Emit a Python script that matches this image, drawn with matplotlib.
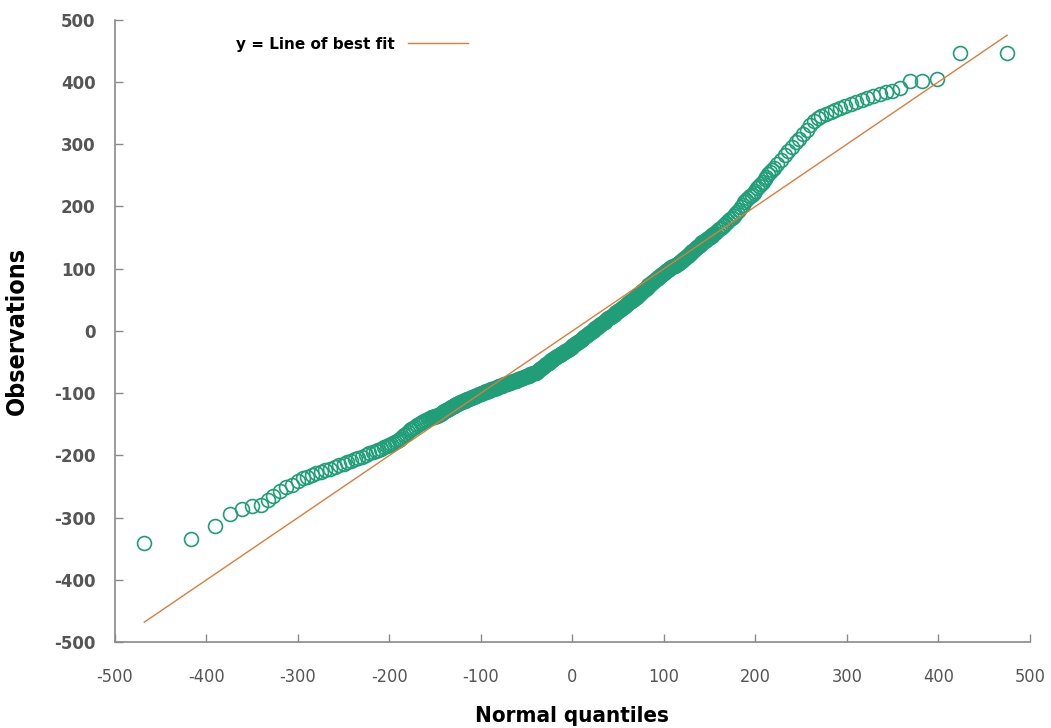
import matplotlib
matplotlib.use("Agg")
import matplotlib.pyplot as plt

GREEN, ORANGE, GREY = "#1f9e78", "#e07b39", "#8a8a8a"

# Normal quantiles (x) and sorted observations (y)
q_left = [-468, -417, -391, -374, -361, -350, -340, -333, -327, -320, -313, -307,
          -300, -295, -290, -285, -280, -275, -270, -265, -260, -255, -250, -246,
          -242, -238, -234, -230, -226, -222, -218, -215, -212, -209, -206, -203,
          -200, -198, -196, -194, -192, -190, -188, -186, -184, -182, -180, -178,
          -176, -174, -172, -170, -168, -166, -164, -162, -160, -158, -156]
obs_left = [-341, -334, -314, -294, -286, -282, -279, -272, -265, -258, -251, -247,
            -241, -237, -234, -231, -228, -226, -223, -222, -219, -216, -214, -211,
            -209, -206, -204, -202, -199, -197, -195, -193, -191, -189, -187, -185,
            -183, -182, -180, -178, -177, -175, -173, -170, -168, -165, -163, -160,
            -158, -156, -154, -152, -150, -148, -147, -145, -143, -142, -140]

q_mid = [-154, -153, -152, -151, -150, -149, -148, -147, -146, -145, -144, -143,
         -142, -141, -140, -139, -138, -137, -136, -135, -134, -133, -132, -131,
         -130, -129, -128, -127, -126, -125, -124, -123, -122, -121, -120, -119,
         -118, -117, -116, -115, -114, -113, -112, -111, -110, -109, -108, -107,
         -106, -105, -104, -103, -102, -101, -100, -99, -98, -97, -96, -95, -94,
         -93, -92, -91, -90, -89, -88, -87, -86, -85, -84, -83, -82, -81, -80, -79,
         -78, -77, -76, -75, -74, -73, -72, -71, -70, -69, -68, -67, -66, -65, -64,
         -63, -62, -61, -60, -59, -58, -57, -56, -55, -54, -53, -52, -51, -50, -49,
         -48, -47, -46, -45, -44, -43, -42, -41, -40, -39, -38, -37, -36, -35, -34,
         -33, -32, -31, -30, -29, -28, -27, -26, -25, -24, -23, -22, -21, -20, -19,
         -18, -17, -16, -15, -14, -13, -12, -11, -10, -9, -8, -7, -6, -5, -4, -3,
         -2, -1, 0, 1, 2, 3, 4, 5, 6, 7, 8, 9, 10, 11, 12, 13, 14, 15, 16, 17, 18,
         19, 20, 21, 22, 23, 24, 25, 26, 27, 28, 29, 30, 31, 32, 33, 34, 35, 36, 37,
         38, 39, 40, 41, 42, 43, 44, 45, 46, 47, 48, 49, 50, 51, 52, 53, 54, 55, 56,
         57, 58, 59, 60, 61, 62, 63, 64, 65, 66, 67, 68, 69, 70, 71, 72, 73, 74, 75,
         76, 77, 78, 79, 80, 81, 82, 83, 84, 85, 86, 87, 88, 89, 90, 91, 92, 93, 94,
         95, 96, 97, 98, 99, 100, 101, 102, 103, 104, 105, 106, 107, 108, 109, 110,
         111, 112, 113, 114, 115, 116, 117, 118, 119, 120, 121, 122, 123, 124, 125,
         126, 127, 128, 129, 130, 131, 132, 133, 134, 135, 136, 137, 138, 139, 140,
         141, 142, 143, 144, 145, 146, 147, 148, 149, 150, 151, 152, 153, 154]
obs_mid = [-139, -139, -138, -138, -137, -136, -136, -135, -135, -134, -133, -132,
           -131, -130, -129, -128, -127, -127, -126, -125, -124, -123, -122, -121,
           -120, -120, -119, -118, -117, -117, -116, -115, -115, -114, -113, -113,
           -112, -111, -111, -110, -109, -109, -108, -108, -107, -107, -106, -105,
           -105, -104, -103, -103, -102, -101, -101, -100, -100, -99, -99, -98, -97,
           -97, -96, -96, -95, -94, -94, -93, -93, -92, -92, -91, -90, -90, -89, -89,
           -88, -88, -87, -86, -86, -85, -85, -84, -84, -83, -83, -82, -82, -81, -81,
           -80, -80, -79, -79, -78, -78, -77, -76, -76, -75, -74, -74, -73, -73, -72,
           -72, -71, -70, -70, -69, -68, -68, -67, -67, -66, -65, -63, -62, -61, -60,
           -59, -58, -56, -55, -54, -53, -52, -51, -49, -48, -47, -46, -45, -44, -43,
           -42, -41, -40, -39, -38, -37, -37, -36, -35, -34, -33, -32, -31, -30, -29,
           -28, -27, -26, -25, -23, -22, -21, -20, -19, -18, -17, -16, -14, -13, -12,
           -11, -10, -9, -8, -7, -5, -4, -3, -2, -1, 0, 2, 3, 4, 5, 6, 7, 9, 10, 11,
           12, 13, 14, 15, 16, 18, 19, 20, 21, 22, 23, 24, 25, 26, 27, 29, 30, 31, 32,
           33, 34, 35, 36, 38, 39, 40, 41, 42, 43, 45, 46, 47, 48, 49, 50, 52, 53, 54,
           55, 57, 58, 59, 60, 62, 63, 65, 66, 67, 68, 70, 71, 73, 74, 75, 76, 78, 79,
           80, 81, 83, 84, 85, 86, 87, 88, 90, 91, 92, 93, 95, 96, 97, 98, 99, 100,
           101, 102, 103, 104, 104, 105, 106, 107, 108, 109, 110, 111, 112, 113, 115,
           116, 117, 118, 120, 121, 123, 124, 125, 126, 128, 129, 130, 131, 133, 134,
           136, 137, 138, 139, 141, 142, 143, 144, 145, 146, 148, 149, 150, 151, 152,
           153, 154, 155]

q_right = [156, 158, 160, 162, 164, 166, 168, 170, 172, 174, 176, 178, 180, 182,
           184, 186, 188, 190, 192, 194, 196, 198, 200, 202, 204, 206, 208, 210, 212,
           214, 216, 218, 220, 224, 228, 232, 236, 240, 244, 248, 252, 256, 260, 264,
           268, 272, 277, 282, 287, 292, 298, 304, 310, 316, 322, 328, 336, 343, 349,
           358, 369, 382, 398, 424, 475]
obs_right = [158, 160, 163, 165, 168, 170, 173, 176, 179, 182, 185, 188, 191, 195,
             199, 203, 207, 210, 213, 216, 219, 222, 225, 229, 232, 236, 239, 244,
             248, 252, 255, 258, 262, 268, 275, 282, 289, 296, 303, 309, 316, 323,
             330, 337, 342, 345, 349, 352, 355, 358, 361, 364, 368, 371, 374, 378,
             381, 384, 386, 390, 401, 402, 405, 447, 447]

ticks = [-500, -400, -300, -200, -100, 0, 100, 200, 300, 400, 500]

quantiles = q_left + q_mid + q_right
observations = obs_left + obs_mid + obs_right

fig = plt.figure(figsize=(10.51, 7.28), dpi=100)
ax = fig.add_axes([0.1094, 0.118, 0.8706, 0.855])

ax.plot(quantiles, observations, linestyle="none", marker="o", markersize=10,
        markerfacecolor="none", markeredgecolor=GREEN, markeredgewidth=1.2,
        zorder=2)
fit_x = [min(quantiles), max(quantiles)]
ax.plot(fit_x, fit_x, color=ORANGE, lw=1.0, zorder=3, label="y = Line of best fit")

ax.set_xlim(-500, 500)
ax.set_ylim(-500, 500)
ax.set_xticks(ticks)
ax.set_yticks(ticks)
ax.set_xticklabels([str(t) for t in ticks], fontsize=13, color="#555555",
                   fontstretch="condensed")
ax.set_yticklabels([str(t) for t in ticks], fontsize=12, color="#555555",
                   fontweight="bold")
ax.tick_params(axis="both", direction="in", length=6, color=GREY, width=1)
ax.tick_params(axis="y", pad=14)
ax.tick_params(axis="x", pad=19)
for side in ("top", "right"):
    ax.spines[side].set_visible(False)
for side in ("left", "bottom"):
    ax.spines[side].set_color(GREY)
    ax.spines[side].set_linewidth(1.2)

ax.set_xlabel("Normal quantiles", fontsize=16, fontweight="bold",
              fontstretch="condensed", labelpad=14)
ax.set_ylabel("Observations", fontsize=18, fontweight="bold",
              fontstretch="condensed", labelpad=18)

ax.legend(loc="upper left", bbox_to_anchor=(0.117, 0.995), frameon=False,
          markerfirst=False, handlelength=3.9, handletextpad=0.9,
          prop={"weight": "bold", "size": 11})

fig.savefig("out.png", dpi=100)
